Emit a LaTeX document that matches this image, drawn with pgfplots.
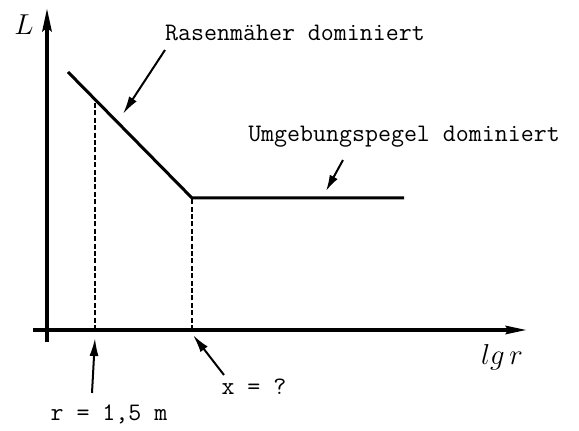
\documentclass[border=0pt]{standalone}
\usepackage{fontspec}
\usepackage{pgfplots}
\pgfplotsset{compat=1.18}
\usetikzlibrary{arrows.meta}
\begin{document}
\begin{tikzpicture}
\begin{axis}[
  scale only axis, width=289.5pt, height=214pt,
  xmin=0, xmax=579, ymin=0, ymax=428,
  hide axis, clip=false,
]
\path (axis cs:0,0) rectangle (axis cs:579,428);
% axes
\draw[line width=2pt] (axis cs:47,86) -- (axis cs:47,400);
\draw[line width=2pt] (axis cs:33,98) -- (axis cs:508,98);
\fill (axis cs:47,419) -- (axis cs:42,396) -- (axis cs:47,400) -- (axis cs:52,396) -- cycle;
\fill (axis cs:526,98) -- (axis cs:505,93.5) -- (axis cs:508,98) -- (axis cs:505,102.5) -- cycle;
% curve
\addplot[black, line width=1.5pt] coordinates {(68,356) (192,230) (404,230)};
% dashed guides
\addplot[black, line width=0.7pt, dash pattern=on 2.5pt off 1.2pt] coordinates {(95,98) (95,328.6)};
\addplot[black, line width=0.7pt, dash pattern=on 2.5pt off 1.2pt] coordinates {(192,98) (192,230)};
% labels
\node[font=\fontsize{14.4}{16}\selectfont] at (axis cs:24,403) {$L$};
\node[font=\fontsize{14.4}{16}\selectfont] at (axis cs:502,71) {$lg\,r$};
\node[font=\ttfamily\fontsize{12.6}{14}\selectfont] at (axis cs:295,395) {Rasenmäher dominiert};
\node[font=\ttfamily\fontsize{12.6}{14}\selectfont] at (axis cs:404,291) {Umgebungspegel dominiert};
\node[font=\ttfamily\fontsize{12.6}{14}\selectfont] at (axis cs:109,14) {r = 1,5 m};
\node[font=\ttfamily\fontsize{12.6}{14}\selectfont] at (axis cs:254,41) {x = ?};
% arrows
\draw[line width=1pt, -{Latex[length=9pt, width=4.5pt]}] (axis cs:165,378) -- (axis cs:123,314);
\draw[line width=1pt, -{Latex[length=8pt, width=4.5pt]}] (axis cs:343,268) -- (axis cs:326,237);
\draw[line width=1pt, -{Latex[length=9pt, width=4.5pt]}] (axis cs:92,35) -- (axis cs:95,90);
\draw[line width=1pt, -{Latex[length=9pt, width=4.5pt]}] (axis cs:224,53) -- (axis cs:193,93);
\end{axis}
\end{tikzpicture}
\end{document}
